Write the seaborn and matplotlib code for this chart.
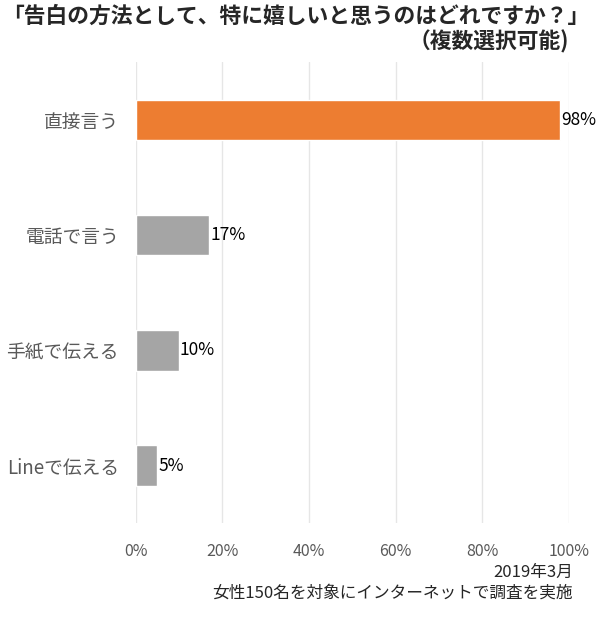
import matplotlib
matplotlib.use("Agg")
import matplotlib.pyplot as plt
import seaborn as sns
import pandas as pd

# data
methods = ["直接言う", "電話で言う", "手紙で伝える", "Lineで伝える"]
values = [98, 17, 10, 5]
bar_colors = ["#ED7D31", "#A5A5A5", "#A5A5A5", "#A5A5A5"]
x_ticks = [0, 20, 40, 60, 80, 100]

sns.set_style("white")
plt.rcParams['font.family'] = ['Noto Sans CJK JP', 'DejaVu Sans']

df = pd.DataFrame({"method": methods, "value": values})

fig = plt.figure(figsize=(6, 6.17), dpi=100)
ax = fig.add_axes([0.226, 0.152, 0.722, 0.747])

sns.barplot(data=df, x="value", y="method", hue="method", palette=bar_colors,
            legend=False, width=0.35, ax=ax, saturation=1)

ax.set_xlim(0, 100)
ax.set_ylim(3.5, -0.5)
ax.set_xticks(x_ticks)
ax.set_xticklabels([f"{t}%" for t in x_ticks], fontsize=11.5, color="#595959")
ax.tick_params(axis="y", labelsize=13.5, colors="#595959", length=0, pad=12)
ax.tick_params(axis="x", length=0, pad=14)
ax.grid(axis="x", color="#E6E6E6", lw=1)
ax.set_axisbelow(True)
for s in ax.spines.values():
    s.set_visible(False)
ax.set_xlabel("")
ax.set_ylabel("")

for i, v in enumerate(values):
    ax.text(v + 0.2, i, f"{v}%", va="center", ha="left", fontsize=12.5, color="black")

fig.text(0.982, 0.973, "「告白の方法として、特に嬉しいと思うのはどれですか？」",
         ha="right", va="center", fontsize=15.7, fontweight="bold")
fig.text(0.948, 0.932, "（複数選択可能)", ha="right", va="center",
         fontsize=15.7, fontweight="bold")

fig.text(0.955, 0.072, "2019年3月", ha="right", va="center", fontsize=12)
fig.text(0.955, 0.039, "女性150名を対象にインターネットで調査を実施", ha="right",
         va="center", fontsize=12)

fig.savefig("out.png", dpi=100)
